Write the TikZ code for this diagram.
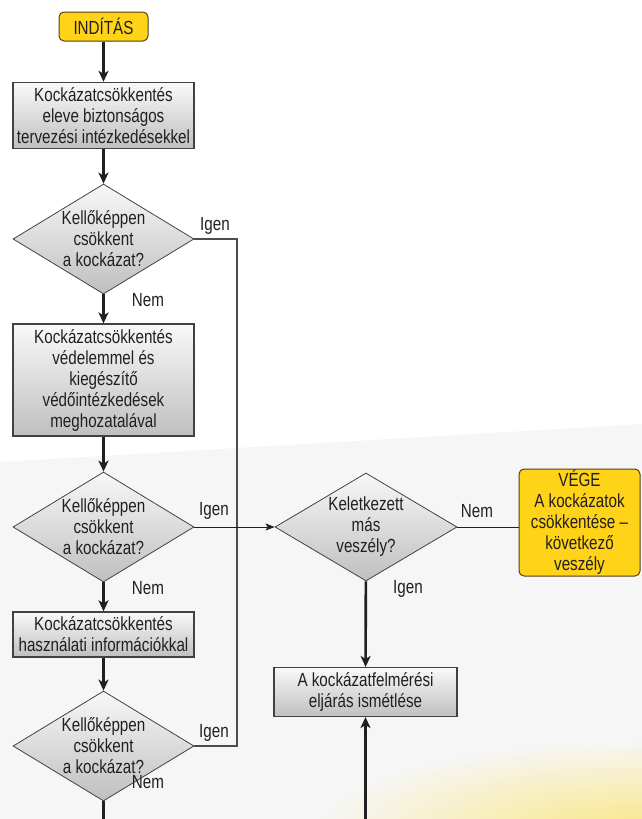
\documentclass[tikz,border=0pt]{standalone}
\usepackage{fontspec}
\setmainfont{Liberation Sans}[FakeStretch=0.8]
\usetikzlibrary{shapes.geometric, arrows.meta}
\definecolor{ink}{RGB}{35,31,32}
\definecolor{gold}{RGB}{254,211,24}
\definecolor{goldedge}{RGB}{80,66,20}
\definecolor{bgband}{RGB}{246,246,246}
\definecolor{glow}{RGB}{250,230,130}
\tikzset{
	txt/.style={font=\fontsize{19}{21}\selectfont, text=ink, align=center},
	box/.style={txt, draw=ink!85, line width=1.2pt, top color=gray!5, bottom color=gray!50, minimum width=181pt, inner xsep=2pt, inner ysep=5pt},
	decision/.style={txt, diamond, draw=ink!85, line width=0.8pt, top color=gray!6, bottom color=gray!50, minimum width=181pt, minimum height=110pt, inner sep=-12pt},
	startstop/.style={txt, draw=goldedge, line width=1pt, fill=gold, rounded corners=5pt},
	flow/.style={draw=ink, line width=2.6pt, -{Stealth[length=11pt,width=10pt,inset=3pt]}},
	thinflow/.style={draw=ink, line width=0.9pt, -{Stealth[length=9pt,width=7pt,inset=2pt]}},
	loopline/.style={draw=gray!60!black, line width=1.3pt},
	answer/.style={txt}
}
\begin{document}
\begin{tikzpicture}[x=1pt, y=-1pt]
	\useasboundingbox (0,0) rectangle (642,819);
	% background
	\begin{scope}
		\clip (0,0) rectangle (642,819);
		\fill[bgband] (0,462) -- (642,424) -- (642,819) -- (0,819) -- cycle;
		\shade[inner color=glow, outer color=bgband] (640,835) ellipse [x radius=330, y radius=95];
	\end{scope}

	% left column
	\node[startstop, minimum width=89pt, minimum height=29pt, inner sep=0pt] (start) at (103.5,26.5) {INDÍTÁS};
	\node[box] (design) at (103.5,115.5) {Kockázatcsökkentés\\eleve biztonságos\\tervezési intézkedésekkel};
	\node[decision] (check1) at (103.5,239) {Kellőképpen\\csökkent\\a kockázat?};
	\node[box] (guard) at (103.5,380) {Kockázatcsökkentés\\védelemmel és\\kiegészítő\\védőintézkedések\\meghozatalával};
	\node[decision] (check2) at (103.5,527) {Kellőképpen\\csökkent\\a kockázat?};
	\node[box] (info) at (103.5,634.5) {Kockázatcsökkentés\\használati információkkal};
	\node[decision] (check3) at (103.5,746) {Kellőképpen\\csökkent\\a kockázat?};
	\coordinate (leftend) at (103.5,819);

	% right column
	\node[decision, minimum width=182pt, minimum height=108pt] (other) at (366,527) {Keletkezett\\más\\veszély?};
	\node[startstop, minimum width=121pt, minimum height=107pt, inner sep=1pt] (finish) at (579.5,522.5) {VÉGE\\A kockázatok\\csökkentése --\\következő\\veszély};
	\node[box, minimum width=183pt] (again) at (365.5,692) {A kockázatfelmérési\\eljárás ismétlése};
	\coordinate (rightend) at (365.5,819);
	\coordinate (joint) at (237,239);

	% connectors
	\draw[flow] (start) -- (design);
	\draw[flow] (design) -- (check1);
	\draw[flow] (check1) -- (guard);
	\draw[flow] (guard) -- (check2);
	\draw[flow] (check2) -- (info);
	\draw[flow] (info) -- (check3);
	\draw[draw=ink, line width=2.6pt] (check3.south) -- (leftend);
	\draw[loopline] (check1.east) -- (joint) |- (check3.east);
	\draw[thinflow] (check2.east) -- (other.west);
	\draw[draw=ink, line width=0.9pt] (other.east) -- (finish.west |- other.east);
	\draw[flow] (other) -- (again);
	\draw[flow] (rightend) -- (again);

	% answers
	\node[answer] (yes1) at (215,226) {Igen};
	\node[answer] (no1) at (148,300) {Nem};
	\node[answer] (yes2) at (214,511) {Igen};
	\node[answer] (no2) at (148,588) {Nem};
	\node[answer] (yes3) at (214,733) {Igen};
	\node[answer] (no3) at (148,782) {Nem};
	\node[answer] (no4) at (477,511) {Nem};
	\node[answer] (yes4) at (408,589) {Igen};
\end{tikzpicture}
\end{document}
